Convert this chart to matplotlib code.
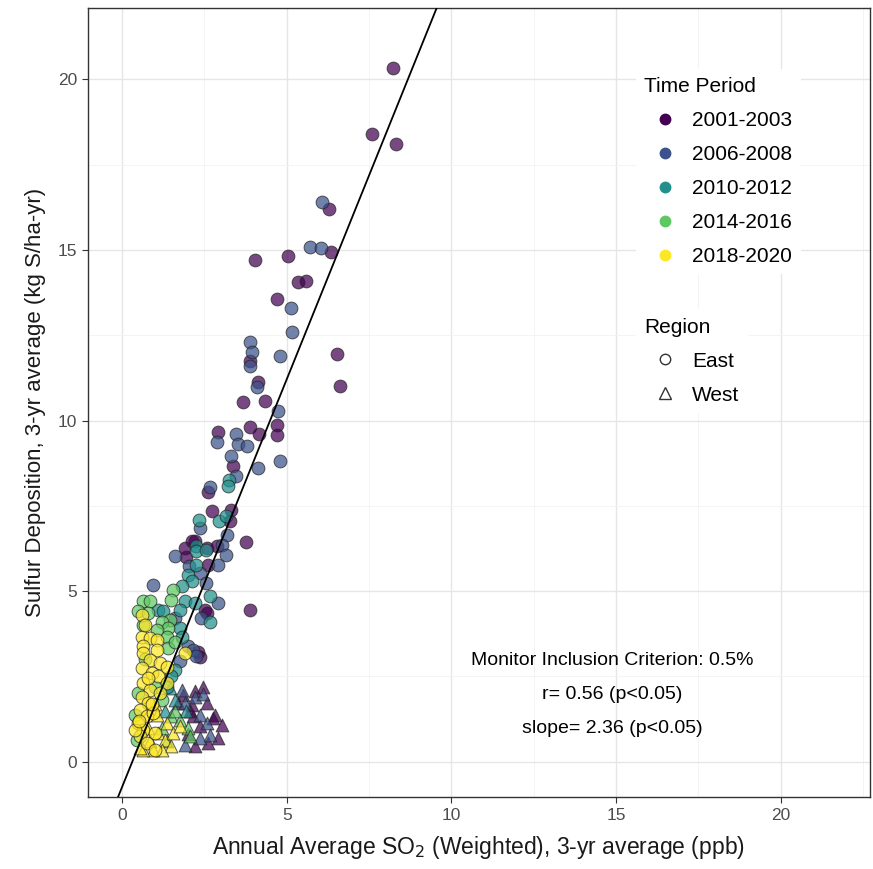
"""Sulfur deposition vs annual average SO2 scatter (ggplot-like look)."""
import matplotlib
matplotlib.use('Agg')
import matplotlib.pyplot as plt
from matplotlib.lines import Line2D

plt.rcParams['font.family'] = ['Liberation Sans', 'DejaVu Sans']

# ── Data ──────────────────────────────────────────────────────────────────────
periods = ['2001-2003', '2006-2008', '2010-2012', '2014-2016', '2018-2020']
period_colors = ['#440154', '#3b528b', '#21908d', '#5ec962', '#fde725']

# 2001-2003
p1_east_x = [8.24, 7.60, 8.33, 6.27, 5.03, 6.35, 4.03, 5.34, 5.58, 4.72, 3.88, 6.52,
             6.61, 4.13, 3.68, 4.33, 2.92, 3.90, 4.16, 4.69, 4.71, 3.37, 2.62, 2.72,
             3.30, 3.27, 3.76, 2.21, 1.91, 2.57, 2.11, 1.94, 2.87, 2.62, 2.52, 2.57,
             2.31, 3.88, 2.36]
p1_east_y = [20.35, 18.40, 18.10, 16.20, 14.82, 14.95, 14.72, 14.06, 14.10, 13.55, 11.74, 11.94,
             11.00, 11.12, 10.54, 10.56, 9.68, 9.81, 9.62, 9.88, 9.59, 8.66, 7.92, 7.36,
             7.39, 7.05, 6.44, 6.46, 6.27, 6.27, 6.46, 6.00, 6.31, 5.78, 4.45, 4.37,
             3.23, 4.46, 3.07]
p1_west_x = [2.21, 1.71, 2.11, 2.57, 2.82, 3.02, 2.92, 2.36, 2.16, 2.62, 2.21, 1.86,
             2.06, 2.77, 2.47, 2.00]
p1_west_y = [2.06, 1.72, 1.67, 1.72, 1.38, 1.09, 0.69, 1.04, 1.33, 0.55, 0.45, 1.96,
             1.48, 1.28, 2.20, 0.80]

# 2006-2008
p2_east_x = [6.06, 5.72, 6.03, 5.14, 5.17, 3.90, 3.95, 3.90, 4.79, 4.10, 4.74, 3.45,
             2.87, 3.52, 3.80, 4.81, 3.30, 3.45, 4.13, 2.67, 2.38, 3.19, 3.02, 1.61,
             3.17, 2.04, 2.92, 0.95, 2.36, 2.55, 2.92, 1.61, 2.41, 2.01, 2.16, 1.76,
             2.26]
p2_east_y = [16.40, 15.10, 15.07, 13.30, 12.60, 12.30, 12.00, 11.59, 11.89, 10.98, 10.27, 9.60,
             9.36, 9.31, 9.27, 8.83, 8.97, 8.39, 8.61, 8.06, 6.85, 6.66, 6.36, 6.02,
             6.07, 5.73, 5.78, 5.19, 5.53, 5.24, 4.65, 4.21, 4.21, 3.38, 3.28, 2.94,
             3.09]
p2_west_x = [1.81, 1.91, 2.36, 2.57, 2.36, 1.91, 2.67, 2.20, 2.45]
p2_west_y = [2.11, 1.72, 1.38, 1.13, 0.69, 0.50, 0.79, 1.90, 2.00]

# 2010-2012
p3_east_x = [3.25, 3.22, 2.34, 2.95, 3.17, 2.24, 2.26, 2.55, 2.26, 2.01, 2.11, 1.81,
             2.67, 1.91, 2.21, 1.10, 1.25, 1.76, 2.67, 1.76, 1.81, 1.61, 1.50, 1.35]
p3_east_y = [8.27, 8.07, 7.10, 7.05, 7.21, 6.31, 6.17, 6.22, 5.78, 5.48, 5.29, 5.14,
             4.85, 4.70, 4.65, 4.45, 4.41, 4.45, 4.11, 3.92, 3.67, 2.70, 2.50, 2.20]
p3_west_x = [1.45, 1.60, 1.30, 1.95]
p3_west_y = [2.16, 1.80, 1.50, 1.50]

# 2014-2016
p4_east_x = [1.54, 1.50, 0.63, 0.85, 0.49, 0.80, 1.45, 1.20, 0.65, 1.40, 1.05, 1.35,
             1.40, 0.49, 0.39, 0.45, 1.00, 1.20, 0.70, 1.60]
p4_east_y = [5.04, 4.75, 4.70, 4.70, 4.41, 4.36, 4.16, 4.11, 4.02, 3.92, 3.87, 3.67,
             3.33, 2.01, 1.38, 0.65, 2.20, 1.80, 3.00, 3.50]
p4_west_x = [1.50, 1.76, 2.01, 2.06, 1.60, 1.35, 1.20]
p4_west_y = [1.33, 1.23, 0.99, 0.74, 1.48, 0.60, 1.00]

# 2018-2020
p5_east_x = [0.60, 0.60, 0.85, 1.05, 0.65, 1.05, 1.91, 0.65, 0.85, 0.60, 0.90, 1.15,
             1.10, 0.65, 0.85, 0.60, 0.80, 0.55, 0.75, 0.49, 0.65, 0.55, 0.75, 1.00,
             0.39, 1.35, 1.35, 1.15, 0.95, 0.70, 0.80, 0.50, 0.90, 1.00]
p5_east_y = [4.31, 3.67, 3.63, 3.58, 3.38, 3.28, 3.19, 3.19, 2.99, 2.75, 2.60, 2.89,
             2.50, 2.30, 2.11, 1.91, 1.72, 1.52, 1.33, 1.13, 0.94, 0.74, 0.55, 0.35,
             0.94, 2.79, 2.30, 2.02, 1.43, 4.00, 2.45, 1.20, 1.70, 0.85]
p5_west_x = [1.05, 1.35, 1.10, 0.85, 1.30, 0.95, 0.65, 1.55, 1.76, 1.50, 1.20, 0.80,
             1.00, 0.55]
p5_west_y = [1.38, 1.13, 0.84, 0.60, 0.65, 0.35, 0.35, 0.84, 1.04, 0.45, 0.35, 1.00,
             1.70, 0.40]

east_x = [p1_east_x, p2_east_x, p3_east_x, p4_east_x, p5_east_x]
east_y = [p1_east_y, p2_east_y, p3_east_y, p4_east_y, p5_east_y]
west_x = [p1_west_x, p2_west_x, p3_west_x, p4_west_x, p5_west_x]
west_y = [p1_west_y, p2_west_y, p3_west_y, p4_west_y, p5_west_y]

fit_slope = 2.39
fit_intercept = -0.74

x_ticks = [0, 5, 10, 15, 20]
y_ticks = [0, 5, 10, 15, 20]
notes = ['Monitor Inclusion Criterion: 0.5%', 'r= 0.56 (p<0.05)', 'slope= 2.36 (p<0.05)']
note_y = [2.96, 1.96, 0.97]

# ── Figure ────────────────────────────────────────────────────────────────────
fig = plt.figure(figsize=(8.73, 8.69), dpi=100)
fig.patch.set_facecolor('white')
ax = fig.add_axes([0.101, 0.083, 0.895, 0.908])

ax.set_xlim(-1.03, 22.7)
ax.set_ylim(-1.03, 22.1)

# grid (theme_bw style)
ax.set_xticks(x_ticks)
ax.set_yticks(y_ticks)
ax.set_xticks([2.5, 7.5, 12.5, 17.5, 22.5], minor=True)
ax.set_yticks([2.5, 7.5, 12.5, 17.5], minor=True)
ax.grid(which='major', color='#e6e6e6', lw=1.0)
ax.grid(which='minor', color='#f2f2f2', lw=0.6)
ax.set_axisbelow(True)
ax.tick_params(which='minor', length=0)
ax.tick_params(which='major', length=4, color='#333333', width=0.8,
               labelsize=12.5, labelcolor='#4d4d4d', pad=4)
for sp in ax.spines.values():
    sp.set_color('#333333')
    sp.set_linewidth(1.0)

# points
for i in range(len(periods)):
    ax.scatter(west_x[i], west_y[i], marker='^', s=85,
               facecolor=period_colors[i], alpha=0.72, edgecolor='#222222',
               linewidth=0.7, zorder=3)
    ax.scatter(east_x[i], east_y[i], marker='o', s=85,
               facecolor=period_colors[i], alpha=0.72, edgecolor='#222222',
               linewidth=0.7, zorder=3)

# regression line
ax.axline((0, fit_intercept), slope=fit_slope, color='black', lw=1.3, zorder=4)

# annotation
for txt, yy in zip(notes, note_y):
    ax.text(14.9, yy, txt, ha='center', va='center', fontsize=14, color='black')

ax.set_xlabel('Annual Average SO$_2$ (Weighted), 3-yr average (ppb)',
              fontsize=16.5, color='#1a1a1a', labelpad=8)
ax.set_ylabel('Sulfur Deposition, 3-yr average (kg S/ha-yr)',
              fontsize=16, color='#1a1a1a', labelpad=8)

# legends
leg_kw = dict(loc='upper left', fontsize=15, title_fontsize=15, frameon=True,
              facecolor='white', edgecolor='none', framealpha=1,
              handlelength=2.0, handletextpad=0.3, labelspacing=0.72,
              borderpad=0.4)

period_handles = [Line2D([], [], marker='o', ls='', color=c, markersize=7.5)
                  for c in period_colors]
leg1 = ax.legend(period_handles, periods, title='Time Period',
                 bbox_to_anchor=(0.688, 0.936), **leg_kw)
leg1._legend_box.align = 'left'
leg1.set_zorder(6)
ax.add_artist(leg1)

region_handles = [
    Line2D([], [], marker='o', ls='', markerfacecolor='none',
           markeredgecolor='#333333', markersize=7.5),
    Line2D([], [], marker='^', ls='', markerfacecolor='none',
           markeredgecolor='#333333', markersize=8.5),
]
leg2 = ax.legend(region_handles, ['East', 'West'], title='Region',
                 bbox_to_anchor=(0.688, 0.631), **leg_kw)
leg2._legend_box.align = 'left'
leg2.set_zorder(6)

plt.savefig('out.png', dpi=100, facecolor='white')
plt.close()
